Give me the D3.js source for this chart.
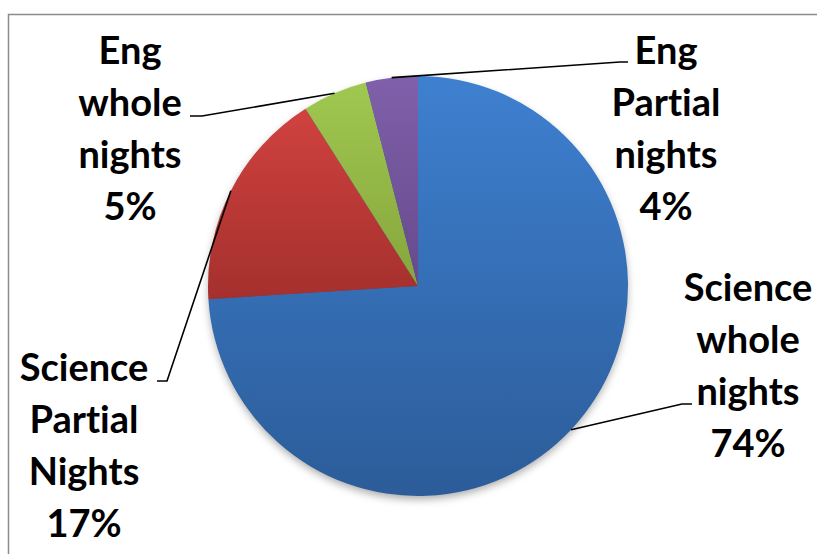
<!DOCTYPE html>
<html><head><meta charset="utf-8">
<script src="https://cdn.jsdelivr.net/npm/d3@7"></script>
<style>html,body{margin:0;padding:0;background:#fff;overflow:hidden} text{font-variant-ligatures:none;font-feature-settings:"liga" 0}</style>
</head><body>
<svg id="c" width="817" height="554"></svg>
<script>
const categories = ["Science whole nights", "Science Partial Nights", "Eng whole nights", "Eng Partial nights"];
const values = [74, 17, 5, 4];
const labelLines = [["Science","whole","nights","74%"],["Science","Partial","Nights","17%"],["Eng","whole","nights","5%"],["Eng","Partial","nights","4%"]];
const colorsTop = ["#3e80d0","#d0423f","#a0c850","#8060aa"];
const colorsBottom = ["#2c5c99","#a4302d","#86a53d","#664a8c"];

const svg = d3.select("#c");
const cx = 418, cy = 286, R = 210;

svg.append("rect").attr("x",8.5).attr("y",14.5).attr("width",830).attr("height",560)
  .attr("fill","none").attr("stroke","#8c8c8c").attr("stroke-width",1.5);

const defs = svg.append("defs");
const f = defs.append("filter").attr("id","sh").attr("x","-20%").attr("y","-20%").attr("width","140%").attr("height","140%");
f.append("feDropShadow").attr("dx",0).attr("dy",4).attr("stdDeviation",4).attr("flood-color","#000").attr("flood-opacity",0.35);
colorsTop.forEach((c,i)=>{
  const g = defs.append("linearGradient").attr("id","g"+i).attr("x1",0).attr("y1",0).attr("x2",0).attr("y2",1);
  g.append("stop").attr("offset","0%").attr("stop-color",c);
  g.append("stop").attr("offset","100%").attr("stop-color",colorsBottom[i]);
});

const pie = d3.pie().sort(null).value(d=>d)(values);
const arc = d3.arc().innerRadius(0).outerRadius(R);
const gp = svg.append("g").attr("transform",`translate(${cx},${cy})`);
gp.append("circle").attr("r",R-1).attr("fill","#2c5c99").attr("filter","url(#sh)");
gp.selectAll("path.s").data(pie).enter().append("path").attr("class","s")
  .attr("d",arc).attr("fill",(d,i)=>`url(#g${i})`);

const elbows = [[[682,404],[692,404]],[[167,381],[157,381]],[[202,116],[190,116]],[[620,62],[628,62]]];
const line = d3.line();
pie.forEach((d,i)=>{
  const a = (d.startAngle+d.endAngle)/2;
  const p0 = [cx + R*Math.sin(a), cy - R*Math.cos(a)];
  svg.append("path").attr("d", line([p0, ...elbows[i]]))
    .attr("fill","none").attr("stroke","#000").attr("stroke-width",1.6);
});

const labelPos = [[748,301],[84,381],[130,64],[666,64]];
const lh = 52;
const fs = 38;
labelLines.forEach((lines,i)=>{
  const t = svg.append("text").attr("text-anchor","middle")
    .attr("font-family","Lato, 'Open Sans', sans-serif").attr("font-weight","bold")
    .attr("font-size",fs).attr("fill","#000");
  lines.forEach((s,j)=>{
    t.append("tspan").attr("x",labelPos[i][0]).attr("y",labelPos[i][1]+j*lh).text(s);
  });
});
</script>
</body></html>
